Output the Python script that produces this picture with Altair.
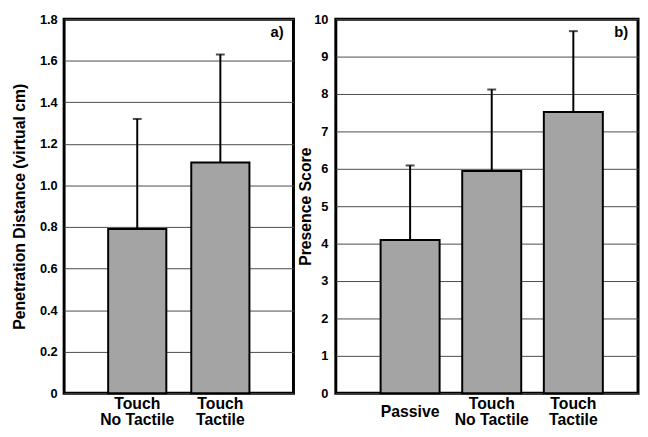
import altair as alt
import pandas as pd

# Panel a data
a_cats = ["Touch|No Tactile", "Touch|Tactile"]
a_means = [0.79, 1.11]
a_upper = [1.32, 1.63]

# Panel b data
b_cats = ["Passive", "Touch|No Tactile", "Touch|Tactile"]
b_means = [4.1, 5.94, 7.52]
b_upper = [6.09, 8.12, 9.68]

a_ticks = [0, 0.2, 0.4, 0.6, 0.8, 1.0, 1.2, 1.4, 1.6, 1.8]
b_ticks = [0, 1, 2, 3, 4, 5, 6, 7, 8, 9, 10]

panel_labels = ["a)", "b)"]

FONT = "Liberation Sans"
BAR_FILL = "#a4a4a4"
H = 380


def panel(cats, means, upper, ticks, ytitle, letter, width,
          pad_inner, pad_outer, align, lab_pad, title_pad, fmt):
    df = pd.DataFrame({"cat": cats, "mean": means, "upper": upper})
    xscale = alt.Scale(paddingInner=pad_inner, paddingOuter=pad_outer, align=align)
    xaxis = alt.Axis(labels=False, ticks=False, domain=False, grid=False, title=None)
    yscale = alt.Scale(domain=[ticks[0], ticks[-1]], nice=False, zero=True)
    yaxis = alt.Axis(
        values=ticks,
        tickCount=100,
        ticks=False,
        domain=False,
        grid=True,
        gridColor="#4a4a4a",
        gridWidth=1,
        gridOpacity=1,
        labelPadding=lab_pad,
        titlePadding=title_pad,
        labelFontSize=13,
        titleFontSize=16,
        labelOverlap=False,
        labelExpr=fmt,
        title=ytitle,
    )
    X = alt.X("cat:N", sort=None, scale=xscale, axis=xaxis)
    base = alt.Chart(df)
    bars = base.mark_bar(fill=BAR_FILL, stroke="black", strokeWidth=2).encode(
        x=X, y=alt.Y("mean:Q", scale=yscale, axis=yaxis)
    )
    err = base.mark_rule(color="black", strokeWidth=2).encode(
        x=X, y=alt.Y("mean:Q", scale=yscale, axis=yaxis), y2="upper:Q"
    )
    cap = base.mark_tick(color="black", thickness=2, size=9, orient="horizontal").encode(
        x=X, y=alt.Y("upper:Q", scale=yscale, axis=yaxis)
    )
    two = base.transform_filter("indexof(datum.cat, '|') >= 0").mark_text(
        lineBreak="|", baseline="top", align="center", font=FONT, fontWeight="bold",
        fontSize=16, lineHeight=16, color="black"
    ).encode(x=X, y=alt.value(H + 3), text="cat:N")
    one = base.transform_filter("indexof(datum.cat, '|') < 0").mark_text(
        baseline="middle", align="center", font=FONT, fontWeight="bold",
        fontSize=16, color="black"
    ).encode(x=X, y=alt.value(H + 19), text="cat:N")
    lab = alt.Chart(pd.DataFrame({"t": [letter]})).mark_text(
        align="right", baseline="middle", font=FONT, fontWeight="bold", fontSize=15, color="black"
    ).encode(text="t:N", x=alt.value(width - 10), y=alt.value(13))
    return alt.layer(bars, err, cap, two, one, lab).properties(width=width, height=H)


pa = panel(a_cats, a_means, a_upper, a_ticks, "Penetration Distance (virtual cm)",
           panel_labels[0], 233, 0.3, 0.53, 0.5, 7, 12,
           "datum.value == 0 ? '0' : format(datum.value, '.1f')")
pb = panel(b_cats, b_means, b_upper, b_ticks, "Presence Score",
           panel_labels[1], 307, 0.277, 0.49, 0.56, 8, 0,
           "format(datum.value, 'd')")

chart = alt.hconcat(pa, pb, spacing=1).properties(
    padding={"left": 2, "top": 0, "right": 0, "bottom": 0}
).configure(
    background="white",
    view=alt.ViewConfig(stroke="black", strokeWidth=3),
    axis=alt.AxisConfig(
        labelFont=FONT, titleFont=FONT, labelFontWeight="bold", titleFontWeight="bold",
        labelColor="black", titleColor="black"
    ),
)

chart.save("out.html", embed_options={"renderer": "svg", "actions": False})
